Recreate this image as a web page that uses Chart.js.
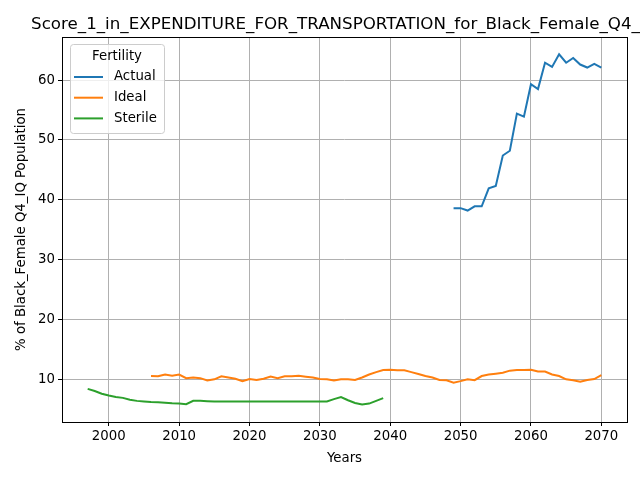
<!DOCTYPE html>
<html>
<head>
<meta charset="utf-8">
<script src="https://cdn.jsdelivr.net/npm/chart.js@4"></script>
<style>
  html, body { margin: 0; padding: 0; background: #fff; }
  canvas { display: block; }
</style>
</head>
<body>
<canvas id="chart" width="640" height="480"></canvas>
<script>
// chart data
var chartTitle = 'Score_1_in_EXPENDITURE_FOR_TRANSPORTATION_for_Black_Female_Q4_IQ';
var legendTitle = 'Fertility';
var xTicks = [2000, 2010, 2020, 2030, 2040, 2050, 2060, 2070];
var yTicks = [10, 20, 30, 40, 50, 60];

var actualStart = 2049;
var actualValues = [38.6, 38.6, 38.2, 38.9, 38.9, 41.9, 42.3, 47.4, 48.2, 54.4, 53.9,
    59.3, 58.5, 62.9, 62.2, 64.3, 62.9, 63.7, 62.6, 62.1, 62.7, 62.1];

var idealStart = 2006;
var idealValues = [10.55, 10.5, 10.8, 10.6, 10.8, 10.2, 10.3, 10.2, 9.8, 10.0,
    10.5, 10.3, 10.1, 9.7, 10.05, 9.9, 10.1, 10.45, 10.2, 10.5,
    10.5, 10.6, 10.45, 10.3, 10.05, 10.0, 9.8, 10.0, 10.0, 9.9,
    10.3, 10.8, 11.2, 11.55, 11.6, 11.5, 11.5, 11.2, 10.9, 10.55,
    10.3, 9.9, 9.85, 9.45, 9.7, 10.0, 9.85, 10.55, 10.8, 10.95,
    11.1, 11.45, 11.55, 11.55, 11.6, 11.3, 11.3, 10.8, 10.55, 10.0,
    9.85, 9.6, 9.9, 10.05, 10.7];

var sterileStart = 1997;
var sterileValues = [8.4, 8.05, 7.6, 7.3, 7.05, 6.9, 6.6, 6.4, 6.3, 6.2,
    6.15, 6.1, 6.0, 5.95, 5.85, 6.4, 6.4, 6.35, 6.3, 6.3,
    6.3, 6.3, 6.3, 6.3, 6.3, 6.3, 6.3, 6.3, 6.3, 6.3,
    6.3, 6.3, 6.3, 6.3, 6.3, 6.7, 7.05, 6.5, 6.05, 5.8,
    5.95, 6.4, 6.85];

var seriesNames = ['Actual', 'Ideal', 'Sterile'];
var seriesColors = ['#1f77b4', '#ff7f0e', '#2ca02c'];

function toPoints(start, values) {
    return values.map(function(v, i) { return { x: start + i, y: v }; });
}

var font = 'DejaVu Sans';

// title centred over the plot area, clipped by the canvas like the original
var titlePlugin = {
    id: 'mplTitle',
    afterDraw: function(chart) {
        var ctx = chart.ctx, a = chart.chartArea;
        ctx.save();
        ctx.fillStyle = '#000';
        ctx.font = '16.7px "' + font + '"';
        ctx.textAlign = 'center';
        ctx.textBaseline = 'alphabetic';
        ctx.fillText(chartTitle, (a.left + a.right) / 2, a.top - 8);
        ctx.restore();
    }
};

// black frame on all four sides
var framePlugin = {
    id: 'frame',
    afterDatasetsDraw: function(chart) {
        var ctx = chart.ctx, a = chart.chartArea;
        ctx.save();
        ctx.strokeStyle = '#000';
        ctx.lineWidth = 1;
        ctx.strokeRect(Math.round(a.left) + 0.5, Math.round(a.top) + 0.5,
            Math.round(a.right - a.left), Math.round(a.bottom - a.top));
        ctx.restore();
    }
};

// matplotlib-like legend box in the upper left
var legendPlugin = {
    id: 'boxLegend',
    afterDraw: function(chart) {
        var ctx = chart.ctx, a = chart.chartArea;
        var x = a.left + 8, y = a.top + 7, w = 94, h = 89;
        ctx.save();
        ctx.fillStyle = 'rgba(255,255,255,0.8)';
        ctx.strokeStyle = '#cccccc';
        ctx.lineWidth = 1;
        ctx.beginPath();
        ctx.roundRect(x + 0.5, y + 0.5, w, h, 3);
        ctx.fill();
        ctx.stroke();
        ctx.fillStyle = '#000';
        ctx.font = '13.3px "' + font + '"';
        ctx.textBaseline = 'middle';
        ctx.textAlign = 'center';
        ctx.fillText(legendTitle, x + w / 2, y + 13);
        ctx.textAlign = 'left';
        chart.data.datasets.forEach(function(ds, i) {
            var ly = y + 33 + i * 20.7;
            ctx.strokeStyle = ds.borderColor;
            ctx.lineWidth = 2;
            ctx.beginPath();
            ctx.moveTo(x + 4, ly);
            ctx.lineTo(x + 33, ly);
            ctx.stroke();
            ctx.fillText(ds.label, x + 44, ly);
        });
        ctx.restore();
    }
};

var datasets = [
    toPoints(actualStart, actualValues),
    toPoints(idealStart, idealValues),
    toPoints(sterileStart, sterileValues)
].map(function(points, i) {
    return {
        label: seriesNames[i],
        data: points,
        borderColor: seriesColors[i],
        backgroundColor: seriesColors[i],
        borderWidth: 2,
        pointRadius: 0,
        fill: false,
        tension: 0
    };
});

new Chart(document.getElementById('chart').getContext('2d'), {
    type: 'line',
    data: { datasets: datasets },
    plugins: [titlePlugin, framePlugin, legendPlugin],
    options: {
        responsive: false,
        animation: false,
        layout: { padding: { top: 37, right: 13, left: 0, bottom: 0 } },
        plugins: {
            legend: { display: false },
            title: { display: false },
            tooltip: { enabled: false }
        },
        scales: {
            x: {
                type: 'linear',
                min: 1993.35,
                max: 2073.65,
                afterBuildTicks: function(axis) {
                    axis.ticks = xTicks.map(function(v) { return { value: v }; });
                },
                afterFit: function(axis) { axis.height = 58; },
                ticks: {
                    color: '#000',
                    font: { family: font, size: 13.3 },
                    padding: 3,
                    maxRotation: 0,
                    callback: function(v) { return String(v); }
                },
                grid: { color: '#b0b0b0', lineWidth: 1, tickColor: '#000', tickLength: 4 },
                border: { display: false },
                title: {
                    display: true,
                    text: 'Years',
                    color: '#000',
                    font: { family: font, size: 13.3 },
                    padding: { top: 2, bottom: 13 }
                }
            },
            y: {
                type: 'linear',
                min: 2.87,
                max: 67.2,
                afterBuildTicks: function(axis) {
                    axis.ticks = yTicks.map(function(v) { return { value: v }; });
                },
                afterFit: function(axis) { axis.width = 62; },
                ticks: {
                    color: '#000',
                    font: { family: font, size: 13.3 },
                    padding: 3
                },
                grid: { color: '#b0b0b0', lineWidth: 1, tickColor: '#000', tickLength: 4 },
                border: { display: false },
                title: {
                    display: true,
                    text: '% of Black_Female Q4_IQ Population',
                    color: '#000',
                    font: { family: font, size: 13.3 },
                    padding: { top: 14, bottom: 4 }
                }
            }
        }
    }
});
</script>
</body>
</html>
